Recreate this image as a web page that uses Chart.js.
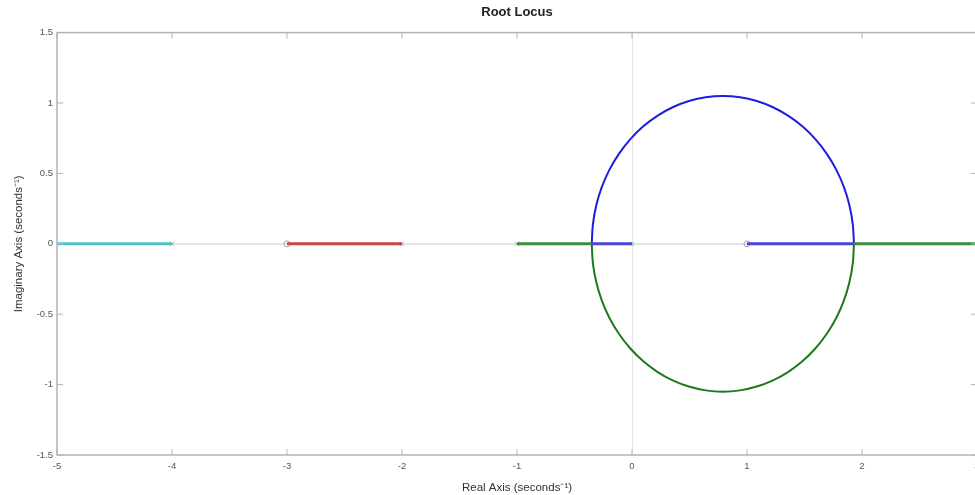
<!DOCTYPE html>
<html>
<head>
<meta charset="utf-8">
<script src="https://cdn.jsdelivr.net/npm/chart.js@4"></script>
<style>
  html, body { margin: 0; padding: 0; background: #fff; overflow: hidden; }
  #wrap { width: 1000px; height: 495px; }
</style>
</head>
<body>
<div id="wrap"><canvas id="rl" width="1000" height="495"></canvas></div>
<script>
// -------- datos --------
const xTicks = [-5, -4, -3, -2, -1, 0, 1, 2, 3];
const yTicks = [-1.5, -1, -0.5, 0, 0.5, 1, 1.5];

const poles = [-4, -2, -1, 0];
const zeros = [-3, 1];

// ramas sobre el eje real
const cyanBranch = [{ x: -5, y: 0 }, { x: -4, y: 0 }];
const redBranch = [{ x: -3, y: 0 }, { x: -2, y: 0 }];
const greenReal = [{ x: -1, y: 0 }, { x: -0.35, y: 0 }];
const greenOut = [{ x: 1.93, y: 0 }, { x: 3, y: 0 }];
const blueReal = [{ x: 0, y: 0 }, { x: -0.35, y: 0 }];
const blueBack = [{ x: 1.93, y: 0 }, { x: 1, y: 0 }];

// arco superior (azul) e inferior (verde)
const arcX = [-0.35, -0.34, -0.311, -0.263, -0.197, -0.114, -0.016, 0.096, 0.22, 0.354, 0.495, 0.641, 0.79,
  0.939, 1.085, 1.226, 1.36, 1.484, 1.596, 1.694, 1.777, 1.843, 1.891, 1.92, 1.93];
const upperY = [0, 0.137, 0.272, 0.402, 0.525, 0.639, 0.742, 0.833, 0.909, 0.97, 1.014, 1.041, 1.05,
  1.041, 1.014, 0.97, 0.909, 0.833, 0.742, 0.639, 0.525, 0.402, 0.272, 0.137, 0];
const lowerY = [0, -0.137, -0.272, -0.402, -0.525, -0.639, -0.742, -0.833, -0.909, -0.97, -1.014, -1.041, -1.05,
  -1.041, -1.014, -0.97, -0.909, -0.833, -0.742, -0.639, -0.525, -0.402, -0.272, -0.137, 0];

const FONT = "'Liberation Sans', Arial, Helvetica, sans-serif";

function pts(xs, ys) { return xs.map((x, i) => ({ x: x, y: ys[i] })); }

function seg(data, color, width) {
  return { data: data, borderColor: color, borderWidth: width, pointRadius: 0, showLine: true, fill: false };
}

// ejes tipo caja con marcas hacia adentro
const boxAxes = {
  id: "boxAxes",
  afterDraw(chart) {
    const { ctx, chartArea: a, scales } = chart;
    ctx.save();
    ctx.strokeStyle = "#b4b4b4";
    ctx.lineWidth = 1.5;
    ctx.strokeRect(a.left, a.top, a.right - a.left, a.bottom - a.top);
    ctx.lineWidth = 1;
    ctx.beginPath();
    xTicks.forEach(v => {
      const px = scales.x.getPixelForValue(v);
      ctx.moveTo(px, a.bottom); ctx.lineTo(px, a.bottom - 6);
      ctx.moveTo(px, a.top); ctx.lineTo(px, a.top + 6);
    });
    yTicks.forEach(v => {
      const py = scales.y.getPixelForValue(v);
      ctx.moveTo(a.left, py); ctx.lineTo(a.left + 6, py);
      ctx.moveTo(a.right, py); ctx.lineTo(a.right - 6, py);
    });
    ctx.stroke();
    ctx.restore();
  }
};

const ctx = document.getElementById("rl").getContext("2d");
new Chart(ctx, {
  type: "scatter",
  data: {
    datasets: [
      seg(cyanBranch, "rgb(80,195,200)", 3),
      seg(redBranch, "rgb(205,70,70)", 3),
      seg(greenReal, "rgb(60,140,60)", 3),
      seg(greenOut, "rgb(60,140,60)", 3),
      seg(blueReal, "rgb(70,70,215)", 3),
      seg(blueBack, "rgb(70,70,215)", 3),
      Object.assign(seg(pts(arcX, upperY), "rgb(30,30,225)", 2), { tension: 0.33 }),
      Object.assign(seg(pts(arcX, lowerY), "rgb(30,120,30)", 2), { tension: 0.33 }),
      { data: poles.map(p => ({ x: p, y: 0 })), pointStyle: "crossRot", pointRadius: 3,
        borderColor: "#a8a8a8", borderWidth: 1, showLine: false },
      { data: zeros.map(z => ({ x: z, y: 0 })), pointStyle: "circle", pointRadius: 3,
        borderColor: "#a8a8a8", backgroundColor: "rgba(255,255,255,0)", borderWidth: 1, showLine: false }
    ]
  },
  options: {
    responsive: false,
    animation: false,
    layout: { padding: { left: 0, right: 23, top: 0, bottom: 0 } },
    plugins: {
      legend: { display: false },
      tooltip: { enabled: false },
      title: {
        display: true,
        fullSize: false,
        text: "Root Locus",
        color: "#222",
        font: { family: FONT, size: 13, weight: "bold" },
        padding: { top: 5, bottom: 12 }
      }
    },
    scales: {
      x: {
        type: "linear",
        min: -5, max: 3,
        afterBuildTicks: s => { s.ticks = xTicks.map(v => ({ value: v })); },
        afterFit: s => { s.height = 40; },
        border: { display: false },
        grid: {
          drawTicks: false,
          color: c => (c.tick && c.tick.value === 0 ? "#e4e4e4" : "rgba(0,0,0,0)"),
          lineWidth: 1
        },
        ticks: { color: "#555", font: { family: FONT, size: 9.5 }, padding: 6, maxRotation: 0,
          callback: v => String(v) },
        title: {
          display: true,
          text: "Real Axis (seconds\u207B\u00B9)",
          color: "#333",
          font: { family: FONT, size: 11.5 },
          padding: { top: 2, bottom: 0 }
        }
      },
      y: {
        type: "linear",
        min: -1.5, max: 1.5,
        afterBuildTicks: s => { s.ticks = yTicks.map(v => ({ value: v })); },
        afterFit: s => { s.width = 57; },
        border: { display: false },
        grid: {
          drawTicks: false,
          color: c => (c.tick && c.tick.value === 0 ? "#e4e4e4" : "rgba(0,0,0,0)"),
          lineWidth: 2
        },
        ticks: { color: "#555", font: { family: FONT, size: 9.5 }, padding: 4,
          callback: v => String(v) },
        title: {
          display: true,
          text: "Imaginary Axis (seconds\u207B\u00B9)",
          color: "#333",
          font: { family: FONT, size: 11.5 },
          padding: { top: 12, bottom: 0 }
        }
      }
    }
  },
  plugins: [boxAxes]
});
</script>
</body>
</html>
